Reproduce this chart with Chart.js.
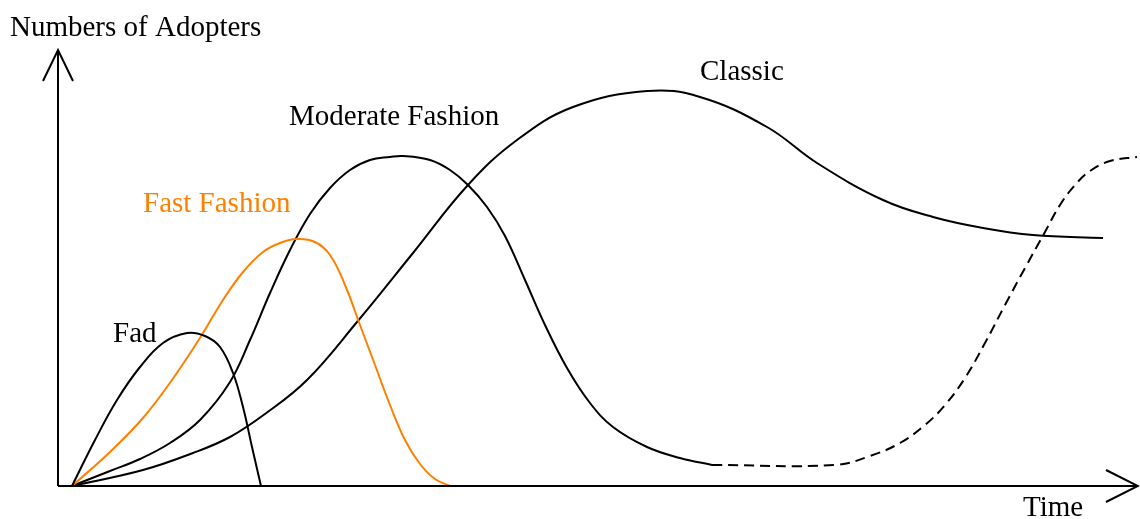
<!DOCTYPE html>
<html><head><meta charset="utf-8">
<script src="https://cdn.jsdelivr.net/npm/chart.js@4/dist/chart.umd.min.js"></script>
<style>html,body{margin:0;padding:0;background:#fff}#w{width:1140px;height:519px}</style>
</head><body><div id="w"><canvas id="c"></canvas></div>
<script>
const seriesNames = ["Fad", "Fast Fashion", "Moderate Fashion", "Moderate Fashion (revival)", "Classic"];
const axisTitles = ["Numbers of Adopters", "Time"];
const fadX = [14,37,59,82,105,129,147,162,175,185,194,203];
const fadY = [0,46,86,119,143,153,150,139,113,79,39,0];
const fastX = [14,52,85,114,142,165,185,205,222,239,257,272,287,302,317,332,347,362,377,392];
const fastY = [0,34,68,106,148,186,214,234,243,247,244,231,201,161,121,81,46,22,7,0];
const modX = [14,52,82,112,142,172,192,212,232,252,272,292,312,332,345,372,392,410,429,447,467,487,509,532,555,589,622,654];
const modY = [0,15,27,43,66,104,146,193,236,272,298,316,326,329,330,326,316,301,279,250,206,161,118,83,59,39,28,21];
const revX = [654,777,812,842,867,887,907,927,947,967,987,1002,1017,1032,1052,1079];
const revY = [21,21,30,43,61,81,108,143,181,218,254,281,301,315,325,329];
const classicX = [14,85,135,172,207,249,299,355,410,459,515,589,642,709,759,825,875,925,975,1045];
const classicY = [0,16,33,49,72,106,164,233,301,346,379,395,389,359,323,286,269,258,251,248];

const pts = (xs, ys) => xs.map((x, i) => ({x, y: ys[i]}));
const FONT = '29px "Liberation Serif", "Times New Roman", serif';
const ORANGE = '#ff8000';

const decor = {
  id: 'decor',
  afterDatasetsDraw(chart) {
    const {ctx, scales: {x, y}} = chart;
    const x0 = x.getPixelForValue(0), y0 = y.getPixelForValue(0);
    ctx.save();
    ctx.strokeStyle = '#000'; ctx.lineWidth = 2; ctx.lineCap = 'butt';
    const yTop = y.getPixelForValue(436), xEnd = x.getPixelForValue(1080);
    ctx.beginPath();
    ctx.moveTo(x0, y0); ctx.lineTo(x0, yTop);
    ctx.moveTo(x0 - 15, yTop + 31); ctx.lineTo(x0, yTop); ctx.lineTo(x0 + 15, yTop + 31);
    ctx.moveTo(x0, y0); ctx.lineTo(xEnd, y0);
    ctx.moveTo(xEnd - 32, y0 - 16); ctx.lineTo(xEnd, y0); ctx.lineTo(xEnd - 32, y0 + 16);
    ctx.stroke();
    ctx.font = FONT; ctx.textBaseline = 'alphabetic'; ctx.textAlign = 'left';
    const lab = (t, vx, vy, col) => { ctx.fillStyle = col; ctx.fillText(t, x.getPixelForValue(vx), y.getPixelForValue(vy)); };
    lab(axisTitles[0], -48, 450, '#000');
    lab(axisTitles[1], 965, -30, '#000');
    lab(seriesNames[0], 55, 144, '#000');
    lab(seriesNames[1], 85, 274, ORANGE);
    lab(seriesNames[2], 231, 361, '#000');
    lab('Classic', 642, 406, '#000');
    ctx.restore();
  }
};

const mk = (label, data, color, dash) => ({
  label, data, borderColor: color, borderWidth: 2, borderDash: dash || [],
  pointRadius: 0, fill: false, tension: 0.4, cubicInterpolationMode: 'default'
});

new Chart(document.getElementById('c'), {
  type: 'line',
  data: { datasets: [
    mk(seriesNames[0], pts(fadX, fadY), '#000'),
    mk(seriesNames[1], pts(fastX, fastY), ORANGE),
    mk(seriesNames[2], pts(modX, modY), '#000'),
    mk(seriesNames[3], pts(revX, revY), '#000', [10, 6]),
    mk(seriesNames[4], pts(classicX, classicY), '#000')
  ]},
  options: {
    responsive: true, maintainAspectRatio: false, animation: false,
    layout: { padding: { left: 58, top: 36, right: 0, bottom: 33 } },
    plugins: { legend: { display: false }, tooltip: { enabled: false } },
    scales: {
      x: { type: 'linear', min: 0, max: 1082, display: false },
      y: { type: 'linear', min: 0, max: 450, display: false }
    }
  },
  plugins: [decor]
});
</script></body></html>
